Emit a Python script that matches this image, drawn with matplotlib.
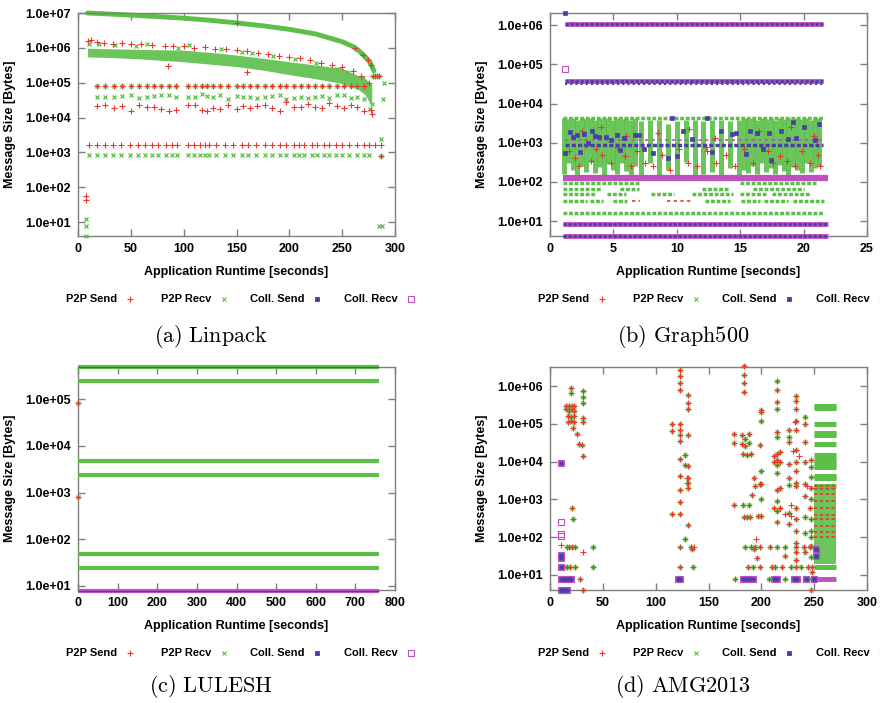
import matplotlib
matplotlib.use("Agg")
import matplotlib.pyplot as plt
from matplotlib.lines import Line2D
from matplotlib.ticker import FixedLocator, FuncFormatter, NullLocator

plt.rcParams["font.family"] = ["Liberation Sans", "DejaVu Sans"]
plt.rcParams["mathtext.fontset"] = "cm"

RED = "#e8392e"
GREEN = "#5cbf48"
BLUE = "#4b3ea8"
MAGENTA = "#c04fc0"
FRAME = "#7f7f7f"

series_names = ["P2P Send", "P2P Recv", "Coll. Send", "Coll. Recv"]
captions = ["(a) Linpack", "(b) Graph500", "(c) LULESH", "(d) AMG2013"]

# ---------------- (a) Linpack ----------------
lin_curve_t = [9, 25, 50, 75, 100, 125, 150, 175, 200, 225, 250, 260, 265, 270, 273, 276, 278, 280]
lin_curve_v = [1.0e7, 9.5e6, 8.7e6, 7.9e6, 7.1e6, 6.2e6, 5.2e6, 4.3e6, 3.4e6, 2.5e6, 1.5e6,
               1.1e6, 8.7e5, 6.3e5, 5.0e5, 4.0e5, 3.0e5, 2.2e5]
lin_curve_red_t = [150, 262, 270, 274, 277]
lin_curve_red_v = [5.2e6, 1.0e6, 6.3e5, 4.5e5, 3.3e5]
lin_tail_t = [279, 281, 283, 285]
lin_tail_v = [1.6e5, 1.6e5, 1.6e5, 1.6e5]

lin_cloud_t = [9, 30, 60, 100, 130, 150, 175, 200, 225, 250, 265, 272, 278]
lin_cloud_lo = [5.5e5, 5.3e5, 4.8e5, 4.0e5, 3.3e5, 2.9e5, 2.3e5, 1.7e5, 1.3e5, 9.5e4, 6.5e4, 4.5e4, 2.0e4]
lin_cloud_hi = [9.8e5, 9.4e5, 9.0e5, 8.6e5, 7.2e5, 6.2e5, 5.0e5, 4.0e5, 3.2e5, 2.6e5, 1.6e5, 1.3e5, 9.0e4]

lin_send_out_t = [9, 12, 18, 25, 33, 42, 50, 60, 70, 82, 90, 100, 110, 120, 130, 140, 150, 160,
                  170, 180, 190, 200, 210, 220, 230, 240, 250, 260, 268, 275, 278, 277, 85, 160]
lin_send_out_v = [1.6e6, 1.7e6, 1.5e6, 1.4e6, 1.3e6, 1.35e6, 1.25e6, 1.3e6, 1.2e6, 1.1e6, 1.15e6,
                  1.1e6, 1.0e6, 1.05e6, 9.5e5, 9.0e5, 8.5e5, 8.0e5, 7.0e5, 6.5e5, 6.0e5, 5.5e5,
                  5.0e5, 4.5e5, 3.8e5, 3.2e5, 2.8e5, 2.2e5, 1.6e5, 1.0e5, 1.3e4, 1.6e4, 3.0e5, 2.0e5]
lin_recv_out_t = [10, 20, 35, 55, 65, 95, 105, 135, 155, 165, 185, 205, 225, 245, 255, 270, 278, 276]
lin_recv_out_v = [1.3e6, 1.25e6, 1.2e6, 1.15e6, 1.3e6, 1.0e6, 1.2e6, 9.0e5, 7.5e5, 7.0e5, 5.7e5,
                  4.8e5, 3.6e5, 2.5e5, 2.0e5, 1.4e5, 2.5e4, 1.8e4]

lin_row_t = [18, 26, 34, 42, 50, 58, 65, 72, 79, 86, 93, 104, 111, 117, 122, 128, 134, 142, 150,
             156, 163, 169, 177, 184, 191, 197, 204, 211, 218, 224, 231, 238, 245, 252, 258, 264, 271]
lin_row80k_v = [7.9e4] * len(lin_row_t)
lin_row40k_v = [3.8e4, 3.9e4, 4.0e4, 4.1e4, 4.4e4, 3.6e4, 4.0e4, 4.1e4, 4.4e4, 4.4e4, 3.9e4,
                3.8e4, 4.0e4, 4.6e4, 4.2e4, 3.9e4, 4.4e4, 3.5e4, 4.1e4, 3.8e4, 4.0e4, 3.6e4,
                3.8e4, 4.2e4, 4.4e4, 3.5e4, 3.6e4, 3.8e4, 3.6e4, 3.8e4, 4.2e4, 3.6e4, 4.3e4,
                4.4e4, 3.7e4, 3.9e4, 3.4e4]
lin_row20k_v = [2.1e4, 2.3e4, 1.9e4, 2.1e4, 1.5e4, 2.3e4, 2.0e4, 2.0e4, 1.8e4, 1.5e4, 1.7e4,
                2.3e4, 2.3e4, 1.6e4, 1.5e4, 1.9e4, 1.8e4, 2.3e4, 1.8e4, 2.1e4, 1.9e4, 2.2e4,
                2.3e4, 1.9e4, 1.5e4, 2.8e4, 2.0e4, 2.0e4, 2.4e4, 2.0e4, 1.9e4, 2.6e4, 2.2e4,
                1.9e4, 2.3e4, 2.0e4, 1.5e4]
lin_small_t = [10, 18, 26, 33, 41, 49, 57, 63, 70, 76, 83, 89, 94, 104, 110, 115, 120, 124, 131,
               139, 147, 155, 161, 168, 177, 184, 191, 197, 204, 209, 214, 221, 226, 233, 238,
               244, 250, 256, 264, 271, 275, 281, 287]
lin_send1600_v = [1.6e3] * len(lin_small_t)
lin_recv860_v = [860] * (len(lin_small_t) - 2)

lin_edge_send_t = [8, 8, 287]
lin_edge_send_v = [58, 44, 800]
lin_edge_recv_t = [8, 8, 8, 285, 288, 287, 287, 290, 289]
lin_edge_recv_v = [12, 7.6, 4.0, 7.6, 7.6, 2400, 790, 1.0e5, 3.3e4]

# ---------------- (b) Graph500 ----------------
g5_coll_level = [1048576, 3.8e4, 8.3, 4.2]
g5_coll_start = [1.2, 1.2, 1.05, 1.05]
g5_coll_end = [21.5, 21.5, 21.9, 21.9]
g5_band128 = 127
g5_blue_row = 860
g5_mag_row = 1150
g5_blue_sub = 3.1e4

g5_cs_t = [1.2, 1.6, 1.85, 2.1, 2.4, 2.7, 3.0, 3.3, 3.55, 3.9, 4.4, 4.85, 5.25, 5.5, 5.85, 6.7,
           7.05, 7.4, 8.15, 9.3, 9.65, 10.05, 10.45, 11.2, 12.35, 12.8, 13.5, 14.35, 14.7,
           15.45, 15.8, 16.3, 16.8, 17.3, 17.4, 18.2, 18.8, 19.15, 19.4, 20.0, 20.9, 21.2, 1.2]
g5_cs_v = [540, 1900, 1400, 1550, 580, 1700, 1000, 2000, 1450, 1400, 1400, 1150, 1600, 650,
           1350, 1550, 1550, 690, 540, 400, 4300, 460, 2000, 1260, 4400, 580, 2000, 1660, 1780,
           530, 2000, 1780, 690, 1820, 370, 2040, 1260, 3300, 1350, 2570, 1150, 2950, 2.0e6]
g5_cr_t = [1.2]
g5_cr_v = [7.4e4]

# vertical stripes of dense P2P traffic (time, low, high)
g5_stripe_t = [1.1, 1.45, 1.8, 2.15, 2.5, 2.85, 3.2, 3.55, 3.9, 4.25, 4.6, 4.95, 5.3, 5.65, 6.0,
               6.35, 6.7, 7.2, 7.9, 8.6, 9.3, 10.0, 10.7, 11.4, 12.1, 12.8, 13.5, 14.2, 14.9,
               15.3, 15.65, 16.0, 16.35, 16.7, 17.05, 17.4, 17.75, 18.1, 18.45, 18.8, 19.15,
               19.5, 19.85, 20.2, 20.55, 20.9, 21.25]
g5_stripe_lo = [160, 300, 200, 150, 260, 180, 320, 170, 240, 150, 280, 200, 160, 300, 190, 150,
                250, 150, 300, 140, 200, 150, 320, 140, 160, 180, 150, 220, 150, 200, 170, 250,
                160, 300, 180, 220, 160, 270, 190, 150, 240, 200, 170, 300, 180, 220, 260]
g5_stripe_hi = [4300, 4000, 4300, 3800, 4300, 4100, 4300, 3900, 4300, 4000, 4300, 3700, 4300,
                4100, 4300, 3900, 4300, 3500, 3800, 3900, 3000, 3600, 3800, 3900, 3500, 3800,
                3700, 3600, 3900, 4300, 4000, 4300, 3900, 4300, 4100, 4300, 3800, 4300, 4000,
                4300, 3900, 4300, 4100, 4300, 3800, 4300, 4200]

g5_row_level = [16, 33, 33, 33, 33, 33, 33, 33, 48, 48, 48, 48, 48, 48, 65, 65, 65, 65, 93, 93, 4200]
g5_row_start = [1.05, 1.05, 3.15, 5.0, 12.2, 15.1, 16.9, 19.2, 1.05, 4.5, 8.0, 11.2, 15.0, 17.5,
                1.05, 5.5, 12.0, 16.0, 1.05, 15.0, 1.05]
g5_row_end = [21.6, 2.9, 4.2, 6.05, 14.2, 16.6, 18.8, 21.6, 3.6, 6.0, 9.8, 14.4, 17.0, 20.6,
              4.0, 7.0, 14.0, 20.0, 7.0, 21.0, 21.6]
g5_red_row_start = [6.5, 9.2]
g5_red_row_end = [7.1, 11.3]

g5_send_t = [1.5, 2.0, 2.3, 2.8, 3.2, 3.6, 4.1, 4.8, 5.3, 5.9, 6.4, 6.9, 7.5, 8.1, 8.8, 9.5,
             10.2, 10.9, 11.6, 12.3, 12.4, 13.1, 13.9, 14.6, 15.3, 16.0, 16.7, 17.2, 17.6, 18.1,
             18.7, 19.3, 19.9, 20.5, 21.1, 21.3, 2.5, 4.0, 6.0, 8.5, 11.0, 13.0, 16.5, 19.0, 20.8]
g5_send_v = [600, 400, 250, 900, 350, 700, 500, 300, 800, 450, 250, 600, 300, 250, 500, 200,
             700, 300, 250, 800, 600, 300, 500, 250, 700, 300, 800, 600, 300, 450, 350, 250,
             600, 300, 500, 250, 2000, 2500, 1500, 1800, 2200, 1300, 2000, 2500, 1500]

# ---------------- (c) LULESH ----------------
lu_levels = [4.8e5, 2.4e5, 4800, 2400, 48, 24]
lu_coll_level = 8
lu_end = 760
lu_start_t = [0, 0]
lu_start_v = [8.3e4, 800]

# ---------------- (d) AMG2013 ----------------
amg_block_levels = [3.0e5, 2.6e5, 9.8e4, 5.8e4, 5.2e4, 3.0e4, 1.5e4, 1.1e4, 9.0e3, 7.4e3, 4.2e3,
                    3.6e3, 2.2e3, 16]
amg_block_dense_lo = 20
amg_block_dense_hi = 2000
amg_block_red = [2.2e3, 1.9e3, 1.4e3, 900, 600, 390, 300, 200, 140, 100]
amg_block_start = 250
amg_block_end = 271

amg_both_t = [19.5, 19.5, 31.5, 31.5, 31.5, 15, 18, 21, 23, 15, 18, 21, 23, 17, 20, 23, 17, 20,
              23, 22, 26, 27, 30, 31, 31, 31, 21, 22, 16, 18, 21, 24, 41, 13, 16, 19, 24, 41, 28, 31,
              115, 115, 115, 123, 123, 123, 123, 123, 123, 123, 123, 123, 123, 123, 123, 123, 123,
              123, 131, 131, 131, 131, 131, 131, 131, 131, 131, 128, 128, 128, 133, 134, 135,
              184, 184, 184, 184, 174, 174, 174, 182, 185, 188, 182, 185, 188, 183, 186, 190, 183,
              188, 184, 186, 189, 200, 200, 200, 199, 200, 199, 200, 200, 200, 197, 193, 194, 191,
              193, 196, 185, 190, 194, 199, 187, 192, 199, 175,
              215, 215, 215, 215, 215, 215, 215, 215, 215, 215, 215, 215, 215, 215, 212, 212, 212,
              218, 218, 218, 218, 226, 226, 226, 226, 226, 226, 226, 226, 222, 233, 233, 233, 233,
              233, 233, 233, 233, 233, 233, 233, 233, 233, 233, 233, 233, 241, 241, 241, 241, 241,
              241, 241, 241, 241, 208, 215, 222, 233, 240, 246, 210, 213, 220, 228, 233, 238, 244,
              248, 207, 222, 245, 247, 247, 247, 247, 247, 246, 247, 247, 247, 247, 247, 248, 247]
amg_both_v = [8.7e5, 6.5e5, 7.5e5, 5.0e5, 3.6e5, 3.0e5, 3.0e5, 3.0e5, 3.0e5, 2.5e5, 2.2e5, 2.5e5,
              2.2e5, 1.6e5, 1.5e5, 1.6e5, 1.1e5, 1.2e5, 1.1e5, 8e4, 5.4e4, 3e4, 2.7e4, 1.4e5,
              1.1e5, 1.45e4, 600, 300, 56, 56, 56, 56, 56, 16, 16, 16, 16, 16, 8, 4,
              9.7e4, 6.5e4, 420, 2.6e6, 1.8e6, 1.2e6, 8e5, 1e5, 7e4, 5e4, 3.5e4, 1.2e4, 4.2e3,
              1.8e3, 880, 420, 56, 16, 5.8e5, 3.5e5, 2.4e5, 5e4, 7.5e3, 3.7e3, 2.7e3, 2e3, 210,
              1.5e4, 8e3, 90, 56, 50, 16,
              3.3e6, 2e6, 1.2e6, 6.8e5, 5.4e4, 3.2e4, 700, 5e4, 4e4, 5.5e4, 3e4, 2.6e4, 3.2e4,
              1.6e4, 1.5e4, 1.6e4, 700, 700, 350, 350, 350, 2.3e5, 2e5, 1.2e5, 2.7e4, 5.5e3,
              2.6e3, 2.5e3, 1e3, 360, 360, 3.8e3, 2.2e3, 1.3e3, 50, 28, 56, 56, 56, 56, 16, 16,
              16, 8,
              1.4e6, 8e5, 3.7e5, 2.5e5, 6e4, 4.5e4, 1.6e4, 1.1e4, 8e3, 5e3, 1.8e3, 900, 500, 250,
              1.4e4, 1e4, 600, 1.8e4, 1e4, 2e3, 600, 6.7e4, 4.5e4, 3.3e4, 8.5e3, 3.8e3, 2.4e3,
              450, 230, 32, 5.3e5, 4e5, 2.4e5, 1.2e5, 6.7e4, 2e4, 1e4, 5.5e3, 2.8e3, 2.2e3, 600,
              300, 150, 70, 40, 25, 1.5e5, 1e5, 3.4e4, 1e4, 2.5e3, 1.2e3, 350, 130, 40, 56, 56,
              56, 56, 56, 56, 16, 16, 16, 16, 16, 16, 16, 16, 8, 8, 8, 1.1e4, 7e3, 4e3, 2e3,
              1e3, 600, 300, 150, 100, 60, 30, 12, 4]
amg_send_t = [10, 31, 136, 195, 222, 228, 230, 236, 228, 232, 243, 130, 130]
amg_send_v = [63, 40, 56, 90, 400, 700, 1.9e4, 1.4e4, 370, 1.1e5, 2.2e3, 2.7e3, 3.7e3]
amg_coll_t = [10, 10, 10, 10, 10, 14, 17, 20, 10, 13, 16, 121, 123, 183, 187, 192, 212, 215,
              231, 234, 242, 250, 252, 252]
amg_coll_v = [9e3, 33, 28, 16, 8, 8, 8, 8, 4, 4, 4, 8, 8, 8, 8, 8, 8, 8, 8, 8, 8, 8, 50, 32]
amg_crecv_t = [10, 10, 10]
amg_crecv_v = [260, 125, 105]
amg_coll_band = 8
amg_coll_band_start = 248
amg_coll_band_end = 271

W, H = 880, 703
fig = plt.figure(figsize=(W / 100, H / 100), dpi=100)

MARKROW = (0, (1.1, 0.5))


def make_axes(left_px, top_px):
    return fig.add_axes([left_px / W, 1 - (top_px + 223) / H, 317 / W, 223 / H])


def style(ax, xmax, xstep, ylim, decades):
    ax.set_yscale("log")
    ax.set_xlim(0, xmax)
    ax.set_ylim(*ylim)
    ax.set_xticks(list(range(0, xmax + 1, xstep)))
    ax.yaxis.set_major_locator(FixedLocator(decades))
    ax.yaxis.set_minor_locator(NullLocator())
    ax.yaxis.set_major_formatter(FuncFormatter(lambda v, p: f"{v:.1e}"))
    ax.tick_params(direction="in", length=5, width=1, color=FRAME, top=True, right=True,
                   labelsize=9, pad=5)
    for lab in ax.get_xticklabels() + ax.get_yticklabels():
        lab.set_fontweight("bold")
    for sp in ax.spines.values():
        sp.set_color(FRAME)
        sp.set_linewidth(1)
    ax.set_xlabel("Application Runtime [seconds]", fontsize=9, fontweight="bold")
    ax.set_ylabel("Message Size [Bytes]", fontsize=9, fontweight="bold")
    ax.xaxis.set_label_coords(0.5, -0.135)
    ax.yaxis.set_label_coords(-0.195, 0.5)


def legend(left_px, y_px):
    ends = [39, 133, 226, 320]
    handles = [dict(marker="+", color=RED, ms=4, mew=0.8, mfc="none"),
               dict(marker="x", color=GREEN, ms=3.5, mew=0.8, mfc="none"),
               dict(marker="s", color=BLUE, ms=2.5, mew=0.6, mfc=BLUE),
               dict(marker="s", color=MAGENTA, ms=4, mew=0.8, mfc="none")]
    for name, end, h in zip(series_names, ends, handles):
        fig.text((left_px + end) / W, 1 - y_px / H, name, ha="right", va="center",
                 fontsize=8, fontweight="bold")
        fig.add_artist(Line2D([(left_px + end + 13) / W], [1 - y_px / H], linestyle="none",
                              transform=fig.transFigure, **h))


def caption(x_px, y_px, text):
    fig.text(x_px / W, 1 - y_px / H, "$\\mathrm{" + text.replace(" ", "\\ ") + "}$",
             ha="center", va="center", fontsize=16)


def pts(ax, t, v, kind):
    if kind == "send":
        ax.plot(t, v, "+", color=RED, ms=4, mew=0.8, clip_on=False, zorder=4)
    elif kind == "recv":
        ax.plot(t, v, "x", color=GREEN, ms=3.5, mew=0.9, clip_on=False, zorder=3)
    elif kind == "csend":
        ax.plot(t, v, "s", color=BLUE, ms=2.8, mew=0.5, clip_on=False, zorder=6)
    else:
        ax.plot(t, v, "s", color=MAGENTA, ms=3.8, mew=0.8, mfc="none", clip_on=False, zorder=5)


# ---- (a) ----
ax = make_axes(78, 13)
style(ax, 300, 50, (4, 1e7), [1e1, 1e2, 1e3, 1e4, 1e5, 1e6, 1e7])
ax.fill_between(lin_cloud_t, lin_cloud_lo, lin_cloud_hi, color=GREEN, alpha=0.9, lw=0, zorder=2)
ax.plot(lin_curve_t, lin_curve_v, color=GREEN, lw=3.5, solid_capstyle="round", zorder=2,
        clip_on=False)
pts(ax, lin_curve_red_t, lin_curve_red_v, "send")
pts(ax, lin_tail_t, lin_tail_v, "send")
pts(ax, lin_tail_t, lin_tail_v, "recv")
pts(ax, lin_send_out_t, lin_send_out_v, "send")
pts(ax, lin_recv_out_t, lin_recv_out_v, "recv")
pts(ax, lin_row_t, lin_row80k_v, "recv")
pts(ax, lin_row_t, lin_row80k_v, "send")
pts(ax, lin_row_t, lin_row40k_v, "recv")
pts(ax, lin_row_t, lin_row20k_v, "send")
pts(ax, lin_small_t, lin_send1600_v, "send")
pts(ax, lin_small_t[:-2], lin_recv860_v, "recv")
pts(ax, lin_edge_send_t, lin_edge_send_v, "send")
pts(ax, lin_edge_recv_t, lin_edge_recv_v, "recv")
legend(78, 299)
caption(211, 337, captions[0])

# ---- (b) ----
ax = make_axes(550, 13)
style(ax, 25, 5, (4.17, 2.04e6), [1e1, 1e2, 1e3, 1e4, 1e5, 1e6])
ax.vlines(g5_stripe_t, g5_stripe_lo, g5_stripe_hi, color=GREEN, lw=3.6, alpha=0.9, zorder=2)
ax.hlines(g5_row_level, g5_row_start, g5_row_end, color=GREEN, lw=2.5, linestyle=MARKROW,
          zorder=2)
ax.hlines([33] * len(g5_red_row_start), g5_red_row_start, g5_red_row_end, color=RED, lw=1.2,
          linestyle=(0, (2, 2)), zorder=3)
pts(ax, g5_send_t, g5_send_v, "send")
ax.hlines(g5_band128, 1.05, 21.9, color=MAGENTA, lw=4.5, zorder=5)
ax.hlines(g5_coll_level, g5_coll_start, g5_coll_end, color=MAGENTA, lw=3.5, zorder=5,
          clip_on=False)
ax.hlines(g5_coll_level, g5_coll_start, g5_coll_end, color=BLUE, lw=2, zorder=6,
          linestyle=(0, (1.2, 0.6)), clip_on=False)
ax.hlines(g5_mag_row, 1.2, 21.5, color=MAGENTA, lw=1.2, linestyle=(0, (2, 2)), zorder=5)
ax.hlines(g5_blue_row, 1.2, 21.5, color=BLUE, lw=2.5, linestyle=(0, (1.2, 0.6)), zorder=6)
ax.hlines(g5_blue_sub, 1.2, 21.5, color=BLUE, lw=1.5, linestyle=(0, (1, 1.5)), zorder=6)
pts(ax, g5_cs_t, g5_cs_v, "csend")
pts(ax, g5_cr_t, g5_cr_v, "crecv")
legend(550, 299)
caption(683, 337, captions[1])

# ---- (c) ----
ax = make_axes(78, 367)
style(ax, 800, 100, (8.2, 4.85e5), [1e1, 1e2, 1e3, 1e4, 1e5])
ax.hlines(lu_levels, 0, lu_end, color=GREEN, lw=3, zorder=3, clip_on=False)
ax.hlines(lu_levels[0], 0, lu_end, color="#2f7a22", lw=0.8, zorder=4, clip_on=False)
ax.hlines(lu_coll_level, 0, lu_end, color=MAGENTA, lw=3, zorder=5, clip_on=False)
ax.hlines(lu_coll_level, 0, lu_end, color=BLUE, lw=0.8, zorder=6, clip_on=False)
pts(ax, lu_start_t, lu_start_v, "recv")
pts(ax, lu_start_t, lu_start_v, "send")
legend(78, 653)
caption(211, 687, captions[2])

# ---- (d) ----
ax = make_axes(550, 367)
style(ax, 300, 50, (4.0, 3.2e6), [1e1, 1e2, 1e3, 1e4, 1e5, 1e6])
ax.fill_between([amg_block_start, amg_block_end],
                [amg_block_dense_lo, amg_block_dense_lo],
                [amg_block_dense_hi, amg_block_dense_hi],
                color=GREEN, alpha=0.9, lw=0, zorder=2)
ax.hlines(amg_block_levels, amg_block_start, amg_block_end, color=GREEN, lw=3.6, zorder=2)
ax.hlines(amg_block_red, amg_block_start, amg_block_end, color=RED, lw=1.2,
          linestyle=(0, (2, 1.5)), zorder=3)
pts(ax, amg_both_t, amg_both_v, "recv")
pts(ax, amg_both_t, amg_both_v, "send")
pts(ax, amg_send_t, amg_send_v, "send")
ax.hlines(amg_coll_band, amg_coll_band_start, amg_coll_band_end, color=MAGENTA, lw=3.5, zorder=5)
pts(ax, amg_coll_t, amg_coll_v, "crecv")
pts(ax, amg_coll_t, amg_coll_v, "csend")
pts(ax, amg_crecv_t, amg_crecv_v, "crecv")
legend(550, 653)
caption(683, 687, captions[3])

fig.savefig("out.png", dpi=100)
